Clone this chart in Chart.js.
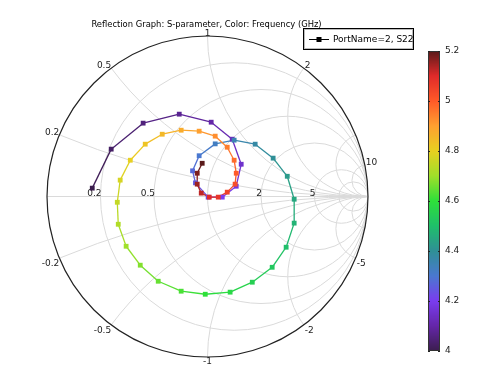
<!DOCTYPE html>
<html>
<head>
<meta charset="utf-8">
<script src="https://cdn.jsdelivr.net/npm/chart.js@4.4.1/dist/chart.umd.min.js"></script>
<style>
  html, body { margin: 0; padding: 0; background: #fff; }
  #smith { display: block; }
</style>
</head>
<body>
<canvas id="smith" width="479" height="366"></canvas>
<script>
// frequency of each sample (GHz)
const freqGHz = [
  4.000, 4.025, 4.050, 4.075, 4.100, 4.125, 4.150, 4.175, 4.200, 4.225,
  4.250, 4.275, 4.300, 4.325, 4.350, 4.375, 4.400, 4.425, 4.450, 4.475,
  4.500, 4.525, 4.550, 4.575, 4.600, 4.625, 4.650, 4.675, 4.700, 4.725,
  4.750, 4.775, 4.800, 4.825, 4.850, 4.875, 4.900, 4.925, 4.950, 4.975,
  5.000, 5.025, 5.050, 5.075, 5.100, 5.125, 5.150, 5.175, 5.200
];
// S22 reflection coefficient, real and imaginary parts
const s22Re = [
  -0.718, -0.600, -0.401, -0.176, 0.023, 0.154, 0.210, 0.179, 0.092, 0.004,
  -0.075, -0.093, -0.052, 0.048, 0.166, 0.297, 0.409, 0.497, 0.540, 0.540,
  0.490, 0.403, 0.279, 0.141, -0.014, -0.164, -0.307, -0.419, -0.507, -0.556,
  -0.562, -0.544, -0.481, -0.388, -0.282, -0.164, -0.052, 0.048, 0.123, 0.166,
  0.179, 0.172, 0.123, 0.067, 0.011, -0.039, -0.064, -0.064, -0.033
];
const s22Im = [
  0.052, 0.295, 0.457, 0.513, 0.463, 0.357, 0.201, 0.064, -0.004, -0.004,
  0.085, 0.160, 0.254, 0.328, 0.351, 0.326, 0.239, 0.126, -0.017, -0.166,
  -0.316, -0.441, -0.534, -0.596, -0.609, -0.590, -0.528, -0.428, -0.310, -0.173,
  -0.036, 0.102, 0.226, 0.326, 0.388, 0.413, 0.407, 0.376, 0.307, 0.226,
  0.145, 0.077, 0.027, -0.004, -0.004, 0.021, 0.077, 0.145, 0.207
];
const colorbarTicks = [4, 4.2, 4.4, 4.6, 4.8, 5, 5.2];
const resistanceCircles = [0.2, 0.5, 1, 2, 5, 10];
const reactanceArcs = [0.2, 0.5, 1, 2, 5, 10];
const resistanceLabels = ['0.2', '0.5', '2', '5'];
const reactanceLabels = ['1', '0.5', '2', '0.2', '-0.2', '-0.5', '-1', '-2', '-5', '10'];

const fMin = 4, fMax = 5.2;
// rainbow-like colour map used for the frequency colouring
const cmap = [
  [0.00, [59, 29, 78]],
  [0.083, [100, 38, 168]],
  [0.167, [122, 60, 240]],
  [0.25, [74, 120, 208]],
  [0.333, [47, 143, 150]],
  [0.417, [31, 191, 106]],
  [0.5, [46, 224, 58]],
  [0.583, [159, 224, 42]],
  [0.667, [232, 208, 32]],
  [0.75, [255, 160, 48]],
  [0.833, [255, 90, 40]],
  [0.917, [224, 42, 42]],
  [1.00, [90, 26, 26]]
];
function colorAt(f) {
  let t = Math.min(1, Math.max(0, (f - fMin) / (fMax - fMin)));
  for (let i = 1; i < cmap.length; i++) {
    if (t <= cmap[i][0]) {
      const [t0, c0] = cmap[i - 1], [t1, c1] = cmap[i];
      const u = (t - t0) / (t1 - t0);
      const c = c0.map((v, k) => Math.round(v + (c1[k] - v) * u));
      return `rgb(${c[0]},${c[1]},${c[2]})`;
    }
  }
  return 'rgb(90,26,26)';
}

const FONT = '9px "DejaVu Sans"';

const smithGrid = {
  id: 'smithGrid',
  beforeDatasetsDraw(chart) {
    const { ctx, scales: { x, y } } = chart;
    const cx = x.getPixelForValue(0), cy = y.getPixelForValue(0);
    const R = x.getPixelForValue(1) - cx;
    ctx.save();
    ctx.beginPath();
    ctx.arc(cx, cy, R, 0, Math.PI * 2);
    ctx.clip();
    ctx.strokeStyle = '#dadada';
    ctx.lineWidth = 1;
    resistanceCircles.forEach(r => {
      ctx.beginPath();
      ctx.arc(cx + R * r / (1 + r), cy, R / (1 + r), 0, Math.PI * 2);
      ctx.stroke();
    });
    reactanceArcs.forEach(xv => {
      [1, -1].forEach(s => {
        ctx.beginPath();
        ctx.arc(cx + R, cy - s * R / xv, R / xv, 0, Math.PI * 2);
        ctx.stroke();
      });
    });
    ctx.beginPath();
    ctx.moveTo(cx - R, cy);
    ctx.lineTo(cx + R, cy);
    ctx.stroke();
    ctx.restore();

    ctx.save();
    ctx.strokeStyle = '#222';
    ctx.lineWidth = 1.2;
    ctx.beginPath();
    ctx.arc(cx, cy, R, 0, Math.PI * 2);
    ctx.stroke();

    ctx.fillStyle = '#222';
    ctx.font = FONT;
    // labels on the real axis
    resistanceLabels.forEach(t => {
      const r = parseFloat(t);
      ctx.textAlign = 'right';
      ctx.textBaseline = 'alphabetic';
      ctx.fillText(t, cx + R * (r - 1) / (r + 1) + 1, cy - 1);
    });
    // labels round the rim
    reactanceLabels.forEach(t => {
      const xv = parseFloat(t);
      const gr = (xv * xv - 1) / (xv * xv + 1), gi = 2 * xv / (xv * xv + 1);
      const px = cx + R * gr, py = cy - R * gi;
      if (t === '1' || t === '-1') {
        ctx.textAlign = 'center';
        ctx.textBaseline = xv > 0 ? 'bottom' : 'top';
        ctx.fillText(t, px, xv > 0 ? py + 2 : py);
        return;
      }
      ctx.textAlign = gr < 0 ? 'right' : 'left';
      ctx.textBaseline = xv > 0 ? 'alphabetic' : 'top';
      ctx.fillText(t, gr < 0 ? px : px + 1, xv > 0 ? py : py + 1);
    });
    ctx.restore();
  },
  afterDraw(chart) {
    const { ctx } = chart;
    ctx.save();
    // title
    ctx.fillStyle = '#000';
    ctx.font = '8.4px "DejaVu Sans"';
    ctx.textAlign = 'center';
    ctx.textBaseline = 'alphabetic';
    ctx.fillText('Reflection Graph: S-parameter, Color: Frequency (GHz)', 206.5, 27);

    // legend box
    ctx.font = FONT;
    ctx.fillStyle = '#fff';
    ctx.fillRect(303, 28, 110, 22);
    ctx.strokeStyle = '#000';
    ctx.lineWidth = 1;
    ctx.strokeRect(303.5, 28.5, 110, 21);
    ctx.strokeStyle = '#bbb';
    ctx.strokeRect(304.5, 29.5, 108, 19);
    ctx.strokeStyle = '#000';
    ctx.beginPath();
    ctx.moveTo(309, 39.5);
    ctx.lineTo(329, 39.5);
    ctx.stroke();
    ctx.fillStyle = '#000';
    ctx.fillRect(316.5, 37, 5, 5);
    ctx.textAlign = 'left';
    ctx.textBaseline = 'middle';
    ctx.fillText('PortName=2, S22', 333, 40);

    // colour bar
    const bx = 428, bw = 12, yTop = 51, yBot = 351;
    for (let py = yTop; py < yBot; py++) {
      const f = fMax - (py + 0.5 - yTop) / (yBot - yTop) * (fMax - fMin);
      ctx.fillStyle = colorAt(f);
      ctx.fillRect(bx, py, bw, 1);
    }
    ctx.strokeStyle = '#333';
    ctx.strokeRect(bx + 0.5, yTop + 0.5, bw - 1, yBot - yTop - 1);
    ctx.fillStyle = '#222';
    colorbarTicks.forEach(v => {
      const py = yBot - (v - fMin) / (fMax - fMin) * (yBot - yTop);
      ctx.strokeStyle = '#222';
      ctx.beginPath();
      ctx.moveTo(bx, Math.round(py) + 0.5); ctx.lineTo(bx + 2, Math.round(py) + 0.5);
      ctx.moveTo(bx + bw - 2, Math.round(py) + 0.5); ctx.lineTo(bx + bw, Math.round(py) + 0.5);
      ctx.stroke();
      ctx.textAlign = 'left';
      ctx.textBaseline = 'middle';
      ctx.fillText(String(v), 445, py);
    });
    ctx.restore();
  }
};

const points = s22Re.map((re, i) => ({ x: re, y: s22Im[i] }));

new Chart(document.getElementById('smith'), {
  type: 'scatter',
  data: {
    datasets: [{
      label: 'PortName=2, S22',
      data: points,
      showLine: true,
      borderWidth: 1.3,
      pointStyle: 'rect',
      pointRadius: 3.4,
      pointBorderWidth: 0,
      pointBackgroundColor: freqGHz.map(colorAt),
      segment: {
        borderColor: c => colorAt((freqGHz[c.p0DataIndex] + freqGHz[c.p1DataIndex]) / 2)
      }
    }]
  },
  options: {
    responsive: false,
    animation: false,
    layout: { padding: { left: 47, top: 36, right: 111, bottom: 9 } },
    scales: {
      x: { type: 'linear', min: -1, max: 1, display: false },
      y: { type: 'linear', min: -1, max: 1, display: false }
    },
    plugins: {
      legend: { display: false },
      title: { display: false },
      tooltip: { enabled: false }
    }
  },
  plugins: [smithGrid]
});
</script>
</body>
</html>
